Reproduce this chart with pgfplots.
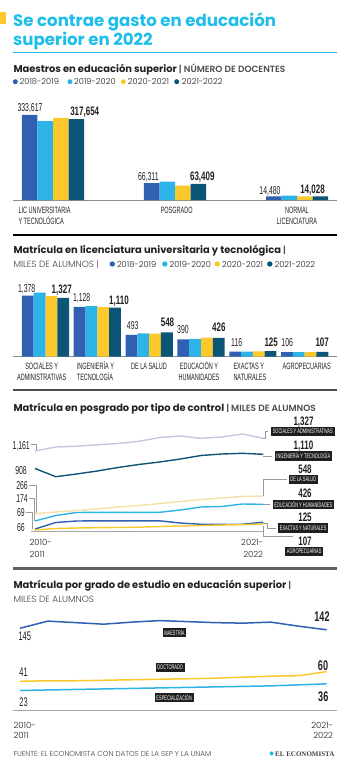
\documentclass[border=0pt]{standalone}
\usepackage{fontspec}
\setmainfont{Poppins}
\newfontfamily\light{Poppins Light}
\newfontfamily\cond[FakeStretch=0.6]{Liberation Sans}
\newfontfamily\condb[FakeStretch=0.65]{Liberation Sans}
\newfontfamily\serifb{Liberation Serif}
\usepackage{pgfplots}
\pgfplotsset{compat=1.18}
\definecolor{cA}{HTML}{3060B0}
\definecolor{cB}{HTML}{2CB3E8}
\definecolor{cC}{HTML}{FBC82E}
\definecolor{cD}{HTML}{0D5577}
\definecolor{lav}{HTML}{C8C4E4}
\definecolor{pyel}{HTML}{F5DFA6}
\definecolor{tcyan}{HTML}{1EBEEA}
\definecolor{txt}{HTML}{231F20}
\definecolor{conn}{HTML}{9A9A9A}
\newcommand{\numr}{\cond\fontsize{11.5}{12}\selectfont}
\newcommand{\numb}{\condb\bfseries\fontsize{12.3}{13}\selectfont}
\newcommand{\numbb}{\condb\bfseries\fontsize{14}{15}\selectfont}
\newcommand{\catf}{\cond\fontsize{9.2}{9.2}\selectfont}
\newcommand{\boxf}{\cond\fontsize{6.6}{6.6}\selectfont}
\newcommand{\headf}{\bfseries\fontsize{9.9}{11}\selectfont}
\newcommand{\subf}{\light\fontsize{9}{10}\selectfont}
\newcommand{\legf}{\light\fontsize{8.3}{9}\selectfont}
\newcommand{\yearf}{\light\fontsize{8.5}{10}\selectfont}
\begin{document}
\begin{tikzpicture}[
  tw/.style={inner sep=0pt, anchor=base west, text=txt},
  tc/.style={inner sep=0pt, anchor=base, text=txt},
  te/.style={inner sep=0pt, anchor=base east, text=txt},
  bx/.style={fill=black!88, text=white, inner xsep=1.8pt, inner ysep=1.2pt, font=\boxf, minimum height=9.5pt, anchor=center}]
\path[use as bounding box] (0,0) rectangle (350pt,-768pt);
\begin{scope}[x=1pt,y=-1pt]
% ---------- title
\fill[cC] (0,12.5) rectangle (5.5,24.5);
\node[tw, text=tcyan, font=\bfseries\fontsize{16.6}{20}\selectfont] at (13,26.5) {Se contrae gasto en educación};
\node[tw, text=tcyan, font=\bfseries\fontsize{16.6}{20}\selectfont] at (13,45.7) {superior en 2022};
\draw[tcyan, line width=1pt] (13,52.3) -- (337,52.3);
% ---------- section 1
\node[tw] at (13.3,72.7) {\headf Maestros en educación superior {\subf\color{txt!80} | NÚMERO DE DOCENTES}};
\fill[cA] (15.3,81.7) circle (2.5pt); \node[tw] at (19.5,84.3) {\legf 2018-2019};
\fill[cB] (70,81.7) circle (2.5pt); \node[tw] at (74,84.3) {\legf 2019-2020};
\fill[cC] (123.3,81.7) circle (2.5pt); \node[tw] at (127.7,84.3) {\legf 2020-2021};
\fill[cD] (176.7,81.7) circle (2.5pt); \node[tw] at (181.7,84.3) {\legf 2021-2022};
\node[tc] at (30,111) {\numr 333,617};
\node[tc] at (84.7,115) {\numb 317,654};
\node[tc] at (148.3,180.5) {\numr 66,311};
\node[tc] at (202.3,180.5) {\numb 63,409};
\node[tc] at (270,194) {\numr 14,480};
\node[tc] at (312.5,193) {\numb 14,028};
\node[tw] at (18.3,213.3) {\catf LIC UNIVERSITARIA};
\node[tw] at (18.3,224.3) {\catf Y TECNOLÓGICA};
\node[tc] at (176.7,213.3) {\catf POSGRADO};
\node[tc] at (297,213.3) {\catf NORMAL};
\node[tc] at (297,224.3) {\catf LICENCIATURA};
\draw[black!45, line width=0.8pt] (13.3,200) -- (336.7,200);
\draw[black, line width=1.5pt] (13.3,235) -- (336.7,235);
% ---------- section 2
\node[tw] at (13.3,253.3) {\headf Matrícula en licenciatura universitaria y tecnológica {\subf\color{txt!80} |}};
\node[tw] at (13.3,267.3) {\subf\color{txt!85} MILES DE ALUMNOS |};
\fill[cA] (112.3,264) circle (2.7pt); \node[tw] at (116.8,267.3) {\legf 2018-2019};
\fill[cB] (164.8,264) circle (2.7pt); \node[tw] at (169.3,267.3) {\legf 2019-2020};
\fill[cC] (217.3,264) circle (2.7pt); \node[tw] at (221.8,267.3) {\legf 2020-2021};
\fill[cD] (269.8,264) circle (2.7pt); \node[tw] at (274.3,267.3) {\legf 2021-2022};
\node[tc] at (26.7,292.3) {\numr 1,378};
\node[tc] at (61.7,293.3) {\numb 1,327};
\node[tc] at (81.7,301.7) {\numr 1,128};
\node[tc] at (119,304.5) {\numb 1,110};
\node[tc] at (132.7,329) {\numr 493};
\node[tc] at (167.5,326.7) {\numb 548};
\node[tc] at (183,333.3) {\numr 390};
\node[tc] at (218.8,331) {\numb 426};
\node[tc] at (236.7,346.7) {\numr 116};
\node[tc] at (271.2,346.7) {\numb 125};
\node[tc] at (287.2,346.7) {\numr 106};
\node[tc] at (322.2,346.7) {\numb 107};
\node[tc] at (41.7,369) {\catf SOCIALES Y};
\node[tc] at (41.7,380) {\catf ADMINISTRATIVAS};
\node[tw] at (76.7,369) {\catf INGENIERÍA Y};
\node[tw] at (76.7,380) {\catf TECNOLOGÍA};
\node[tc] at (149,369) {\catf DE LA SALUD};
\node[tc] at (199,369) {\catf EDUCACIÓN Y};
\node[tc] at (199,380) {\catf HUMANIDADES};
\node[tw] at (233.3,369) {\catf EXACTAS Y};
\node[tw] at (233.3,380) {\catf NATURALES};
\node[tc] at (306.7,369) {\catf AGROPECUARIAS};
\draw[black!45, line width=0.8pt] (13.3,356.7) -- (336.7,356.7);
\draw[black!70, line width=2pt] (13.3,390) -- (336.7,390);
% ---------- section 3
\node[tw] at (13.3,411) {\headf Matrícula en posgrado por tipo de control {\subf\color{txt!80} | MILES DE ALUMNOS}};
\node[te] at (30,449) {\numr 1,161};
\node[te] at (27,474) {\numr 908};
\node[te] at (28,489.5) {\numr 266};
\node[te] at (28,502) {\numr 174};
\node[te] at (25,516) {\numr 69};
\node[te] at (25,531.5) {\numr 66};
\draw[conn, line width=0.6pt] (31,444.5) -- (36.5,444.5) -- (36.5,451);
\draw[conn, line width=0.6pt] (29,485.7) -- (36.5,485.7) -- (36.5,513.5);
\draw[conn, line width=0.6pt] (29,498.3) -- (34,498.3) -- (34,521);
\draw[conn, line width=0.6pt] (26,512.3) -- (32,512.3) -- (32,528.5);
\draw[conn, line width=0.6pt] (263.3,438.3) -- (265.5,438.3) -- (265.5,431.5) -- (268.3,431.5);
\draw[conn, line width=0.6pt] (263.3,455.8) -- (271.7,455.8);
\draw[conn, line width=0.6pt] (263.3,496) -- (263.3,479.7) -- (286.7,479.7);
\draw[conn, line width=0.6pt] (263.3,504.5) -- (270,504.5);
\draw[conn, line width=0.6pt] (263.3,523) -- (267,523) -- (267,527.8) -- (275.7,527.8);
\draw[conn, line width=0.6pt] (263.3,526) -- (263.3,536.7) -- (293.3,536.7);
\draw[black!35, line width=0.8pt] (31,531.5) -- (263.3,531.5);
\node[tc] at (303.5,425) {\numb 1,327};
\node[tc] at (303.5,449.3) {\numb 1,110};
\node[tc] at (305,473.3) {\numb 548};
\node[tc] at (305,497.7) {\numb 426};
\node[tc] at (305,521) {\numb 125};
\node[tc] at (305,545) {\numb 107};
\node[tw] at (29.3,545.7) {\yearf 2010-};
\node[tw] at (29.3,557.3) {\yearf 2011};
\node[te] at (263.3,545.7) {\yearf 2021-};
\node[te] at (263.3,557.3) {\yearf 2022};
\draw[black!62, line width=3pt] (13.3,568.3) -- (336.7,568.3);
% ---------- section 4
\node[tw] at (13.3,588.3) {\headf Matrícula por grado de estudio en educación superior {\subf\color{txt!80} |}};
\node[tw] at (13.3,602.3) {\subf\color{txt!85} MILES DE ALUMNOS};
\node[tw] at (18.3,640.7) {\cond\fontsize{12.5}{13}\selectfont 145};
\node[tw] at (19.3,676) {\cond\fontsize{12.5}{13}\selectfont 41};
\node[tw] at (19.3,706) {\cond\fontsize{12.5}{13}\selectfont 23};
\node[tc] at (322,621.7) {\numbb 142};
\node[tc] at (323,670) {\numbb 60};
\node[tc] at (323.3,701.7) {\numbb 36};
\draw[black!35, line width=0.8pt] (13.3,710.7) -- (336.7,710.7);
\node[tw] at (13.3,728.3) {\yearf 2010-};
\node[tw] at (13.3,738.3) {\yearf 2011};
\node[te] at (333.3,728.3) {\yearf 2021-};
\node[te] at (333.3,738.3) {\yearf 2022};
\node[tw] at (13.3,756) {\light\fontsize{7.2}{8}\selectfont\color{txt!85} FUENTE: EL ECONOMISTA CON DATOS DE LA SEP Y LA UNAM};
\fill[tcyan] (271.6,753.4) circle (2pt);
\node[tw] at (275,756) {\serifb\bfseries\fontsize{7}{8}\selectfont\color{txt!85} EL ECONOMISTA};
\end{scope}
% ---------- chart 1 bars
\begin{axis}[at={(53pt,-200pt)}, anchor=south west, scale only axis, width=244pt, height=85pt,
  xmin=0, xmax=2, ymin=0, ymax=333617, hide axis, clip=false, ybar=0pt, bar width=15.5pt]
\addplot[fill=cA, draw=none] coordinates {(0,333617) (1,66311) (2,14480)};
\addplot[fill=cB, draw=none] coordinates {(0,310000) (1,72000) (2,17500)};
\addplot[fill=cC, draw=none] coordinates {(0,322000) (1,56000) (2,14000)};
\addplot[fill=cD, draw=none] coordinates {(0,317654) (1,63409) (2,14028)};
\end{axis}
% ---------- chart 2 bars
\begin{axis}[at={(45.5pt,-356.7pt)}, anchor=south west, scale only axis, width=259.2pt, height=66.4pt,
  xmin=0, xmax=5, ymin=0, ymax=1500, hide axis, clip=false, ybar=0pt, bar width=11.8pt]
\addplot[fill=cA, draw=none] coordinates {(0,1378) (1,1128) (2,493) (3,390) (4,116) (5,106)};
\addplot[fill=cB, draw=none] coordinates {(0,1446) (1,1145) (2,527) (3,400) (4,116) (5,106)};
\addplot[fill=cC, draw=none] coordinates {(0,1371) (1,1122) (2,520) (3,430) (4,120) (5,105)};
\addplot[fill=cD, draw=none] coordinates {(0,1327) (1,1110) (2,548) (3,426) (4,125) (5,107)};
\end{axis}
% ---------- chart 3 lines
\begin{axis}[at={(35pt,-531.5pt)}, anchor=south west, scale only axis, width=228.25pt, height=100pt,
  xmin=0, xmax=11, ymin=0, ymax=100, hide axis, clip=false]
\addplot[lav, line width=1.4pt, line join=round] coordinates {(0,80.5)(1,84.5)(2,85.3)(3,86.7)(4,88)(5,90.2)(6,94)(7,95.5)(8,93.2)(9,94.5)(10,97.5)(11,93.2)};
\addplot[cD, line width=1.4pt, line join=round] coordinates {(0,63)(1,54.8)(2,57.5)(3,60.5)(4,64)(5,67)(6,69.5)(7,72.5)(8,76)(9,77.5)(10,78.2)(11,77.2)};
\addplot[pyel, line width=1.4pt, line join=round] coordinates {(0,18)(1,19.5)(2,21)(3,22.5)(4,24.5)(5,26)(6,28)(7,30)(8,32)(9,33.5)(10,35)(11,35.5)};
\addplot[cB, line width=1.4pt, line join=round] coordinates {(0,10.5)(1,16)(2,19)(3,19.2)(4,19.2)(5,19.2)(6,19.2)(7,21.5)(8,24.5)(9,25)(10,27.5)(11,27.2)};
\addplot[cA, line width=1.4pt, line join=round] coordinates {(0,2.5)(1,9)(2,10.5)(3,10.7)(4,10.7)(5,10.7)(6,10.7)(7,8.5)(8,7.2)(9,7.2)(10,7.3)(11,9.2)};
\addplot[cC, line width=1.4pt, line join=round] coordinates {(0,1.5)(1,3)(2,3.5)(3,3.8)(4,4)(5,4.3)(6,5)(7,5.5)(8,6)(9,6.5)(10,6.8)(11,7.5)};
\end{axis}
% ---------- chart 4 lines
\begin{axis}[at={(20pt,-710.7pt)}, anchor=south west, scale only axis, width=306.7pt, height=100.3pt,
  xmin=0, xmax=11, ymin=-16.7, ymax=180, hide axis, clip=false]
\addplot[cA, line width=1.5pt, line join=round] coordinates {(0,145)(1,159)(2,156)(3,153)(4,157)(5,160)(6,158)(7,156)(8,155)(9,157)(10,149)(11,142)};
\addplot[cC, line width=1.5pt, line join=round] coordinates {(0,41)(1,42)(2,42)(3,43)(4,44)(5,45)(6,46)(7,47)(8,49)(9,51)(10,52)(11,60)};
\addplot[cB, line width=1.5pt, line join=round] coordinates {(0,23)(1,24)(2,25)(3,26)(4,27)(5,28)(6,29)(7,30)(8,31)(9,32)(10,34)(11,36)};
\end{axis}
% ---------- label boxes
\begin{scope}[x=1pt,y=-1pt]
\node[bx] at (302.8,431.5) {SOCIALES Y ADMINISTRATIVAS};
\node[bx] at (303.3,455.8) {INGENIERÍA Y TECNOLOGÍA};
\node[bx] at (303.3,479.7) {DE LA SALUD};
\node[bx] at (303.3,504.5) {EDUCACIÓN Y HUMANIDADES};
\node[bx] at (303.2,527.8) {EXACTAS Y NATURALES};
\node[bx] at (304.2,551.7) {AGROPECUARIAS};
\node[bx] at (174.5,632.5) {MAESTRÍA};
\node[bx] at (170.2,667.5) {DOCTORADO};
\node[bx] at (174.2,697.5) {ESPECIALIZACIÓN};
\end{scope}
\end{tikzpicture}
\end{document}
